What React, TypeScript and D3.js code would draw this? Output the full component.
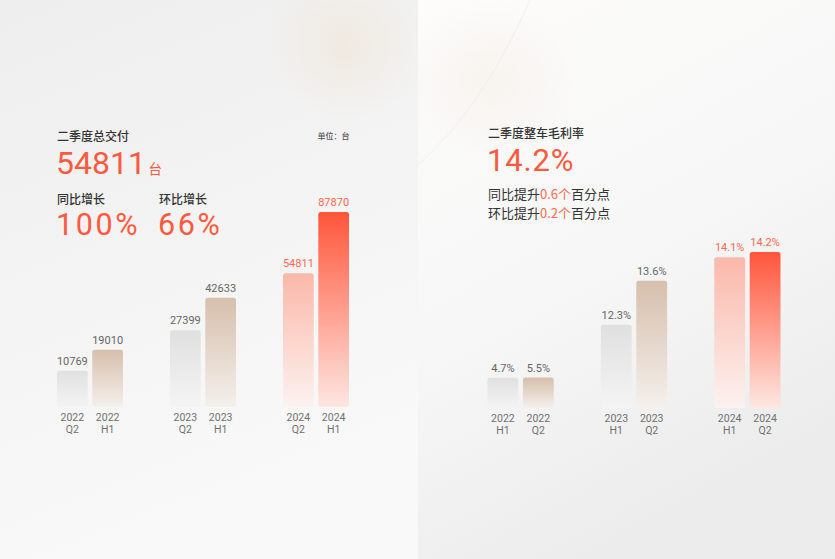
import * as d3 from 'd3';

// Delivery (units)
const deliveryYears = ['2022', '2023', '2024'];
const deliveryPeriods = ['Q2', 'H1'];
const deliveryValues = [
  [10769, 19010],
  [27399, 42633],
  [54811, 87870],
];

// Vehicle gross margin (%)
const marginYears = ['2022', '2023', '2024'];
const marginPeriods = ['H1', 'Q2'];
const marginValues = [
  [4.7, 5.5],
  [12.3, 13.6],
  [14.1, 14.2],
];

const W = 835;
const H = 559;
const RED = '#ff5a3f';
const LABEL_RED = '#ff6a50';
const NUM_FONT = "Roboto, 'Noto Sans CJK SC', sans-serif";
const CJK_FONT = "'Noto Sans CJK SC', sans-serif";

const barStyles = [
  { id: 'g-gray', top: '#e0e0e0', bottom: '#f4f4f4' },
  { id: 'g-tan', top: '#d6bfad', bottom: '#f4f0ec' },
  { id: 'g-salmon', top: '#fbb8aa', bottom: '#fcf2f0' },
  { id: 'g-red', top: '#ff553b', bottom: '#fde7e2' },
];

interface BarPanelProps {
  years: string[];
  periods: string[];
  values: number[][];
  x0: number;
  x1: number;
  bottom: number;
  height: d3.ScalePower<number, number>;
  fmt: (v: number) => string;
}

function BarPanel({ years, periods, values, x0, x1, bottom, height, fmt }: BarPanelProps) {
  const group = d3.scaleBand<string>().domain(years).range([x0, x1]).paddingInner(0.416).paddingOuter(0);
  const inner = d3.scaleBand<string>().domain(periods).range([0, group.bandwidth()]).paddingInner(0.13);

  return (
    <g>
      {years.map((yr, gi) => (
        <g key={yr} transform={`translate(${group(yr)},0)`}>
          {periods.map((p, pi) => {
            const v = values[gi][pi];
            const h = height(v);
            const x = inner(p)!;
            const bw = inner.bandwidth();
            const hi = gi === years.length - 1;
            const style = hi ? barStyles[2 + pi] : barStyles[pi];
            return (
              <g key={p}>
                <rect x={x} y={bottom - h} width={bw} height={h} rx={2.5} fill={`url(#${style.id})`} />
                <text
                  x={x + bw / 2}
                  y={bottom - h - 6}
                  textAnchor="middle"
                  fontFamily={NUM_FONT}
                  fontSize={11}
                  fill={hi ? LABEL_RED : '#666'}
                >
                  {fmt(v)}
                </text>
                <text x={x + bw / 2} y={bottom + 13.5} textAnchor="middle" fontFamily={NUM_FONT} fontSize={10.5} fill="#707070">
                  {yr}
                </text>
                <text x={x + bw / 2} y={bottom + 25.5} textAnchor="middle" fontFamily={NUM_FONT} fontSize={10.5} fill="#707070">
                  {p}
                </text>
              </g>
            );
          })}
        </g>
      ))}
    </g>
  );
}

export default function App() {
  const deliveryHeight = d3.scalePow().exponent(0.8).domain([0, d3.max(deliveryValues.flat())!]).range([0, 195]);
  const marginHeight = d3.scalePow().exponent(6).domain([0, d3.max(marginValues.flat())!]).range([30, 156]);

  return (
    <svg width={W} height={H} style={{ position: 'absolute', left: 0, top: 0 }}>
      <defs>
        {barStyles.map(s => (
          <linearGradient key={s.id} id={s.id} x1="0" y1="0" x2="0" y2="1">
            <stop offset="0%" stopColor={s.top} />
            <stop offset="100%" stopColor={s.bottom} />
          </linearGradient>
        ))}
        <linearGradient id="bg-left" x1="0" y1="0" x2="0.3" y2="1">
          <stop offset="0%" stopColor="#eeeeee" />
          <stop offset="100%" stopColor="#f9f9f9" />
        </linearGradient>
        <linearGradient id="bg-right" x1="0" y1="0" x2="0.4" y2="1">
          <stop offset="0%" stopColor="#fdfcfb" />
          <stop offset="55%" stopColor="#f7f7f7" />
          <stop offset="100%" stopColor="#ececec" />
        </linearGradient>
        <radialGradient id="warm-left" cx="0.5" cy="0.5" r="0.5">
          <stop offset="0%" stopColor="#f0e6da" stopOpacity={0.7} />
          <stop offset="100%" stopColor="#f0e6da" stopOpacity={0} />
        </radialGradient>
        <radialGradient id="warm-right" cx="0.5" cy="0.5" r="0.5">
          <stop offset="0%" stopColor="#f5efe7" stopOpacity={0.6} />
          <stop offset="100%" stopColor="#f5efe7" stopOpacity={0} />
        </radialGradient>
      </defs>

      {/* backgrounds */}
      <rect x={0} y={0} width={418} height={H} fill="url(#bg-left)" />
      <ellipse cx={345} cy={45} rx={80} ry={75} fill="url(#warm-left)" />
      <rect x={418} y={0} width={W - 418} height={H} fill="url(#bg-right)" />
      <ellipse cx={490} cy={80} rx={90} ry={80} fill="url(#warm-right)" />
      <path d="M418,165 C455,130 490,90 530,0" stroke="#f1e8de" strokeWidth={1} fill="none" opacity={0.6} />

      {/* left panel header */}
      <text x={57} y={140.5} fontFamily={CJK_FONT} fontSize={12} fontWeight={500} fill="#333">二季度总交付</text>
      <text x={317.5} y={138.5} fontFamily={CJK_FONT} fontSize={8} fontWeight={500} fill="#555">单位：台</text>
      <text x={56} y={174} fontFamily={NUM_FONT} fontSize={32} fill={RED}>54811</text>
      <text x={148.5} y={174} fontFamily={CJK_FONT} fontSize={13.5} fill={RED}>台</text>
      <text x={57} y={203.5} fontFamily={CJK_FONT} fontSize={12} fontWeight={500} fill="#333">同比增长</text>
      <text x={159} y={203.5} fontFamily={CJK_FONT} fontSize={12} fontWeight={500} fill="#333">环比增长</text>
      <text x={56} y={235} fontFamily={NUM_FONT} fontSize={30.5} letterSpacing={2.6} fill={RED}>100%</text>
      <text x={158} y={235} fontFamily={NUM_FONT} fontSize={30.5} letterSpacing={2.6} fill={RED}>66%</text>

      <BarPanel
        years={deliveryYears}
        periods={deliveryPeriods}
        values={deliveryValues}
        x0={57}
        x1={349}
        bottom={407}
        height={deliveryHeight}
        fmt={v => String(v)}
      />

      {/* right panel header */}
      <text x={488} y={138} fontFamily={CJK_FONT} fontSize={12} fontWeight={500} fill="#333">二季度整车毛利率</text>
      <text x={487} y={170.5} fontFamily={NUM_FONT} fontSize={31} letterSpacing={0.8} fill={RED}>14.2%</text>
      <text x={488} y={199} fontFamily={CJK_FONT} fontSize={13} fill="#333">
        同比提升<tspan fill={LABEL_RED}>0.6个</tspan>百分点
      </text>
      <text x={488} y={218} fontFamily={CJK_FONT} fontSize={13} fill="#333">
        环比提升<tspan fill={LABEL_RED}>0.2个</tspan>百分点
      </text>

      <BarPanel
        years={marginYears}
        periods={marginPeriods}
        values={marginValues}
        x0={487.5}
        x1={780.5}
        bottom={408}
        height={marginHeight}
        fmt={v => `${v.toFixed(1)}%`}
      />
    </svg>
  );
}
